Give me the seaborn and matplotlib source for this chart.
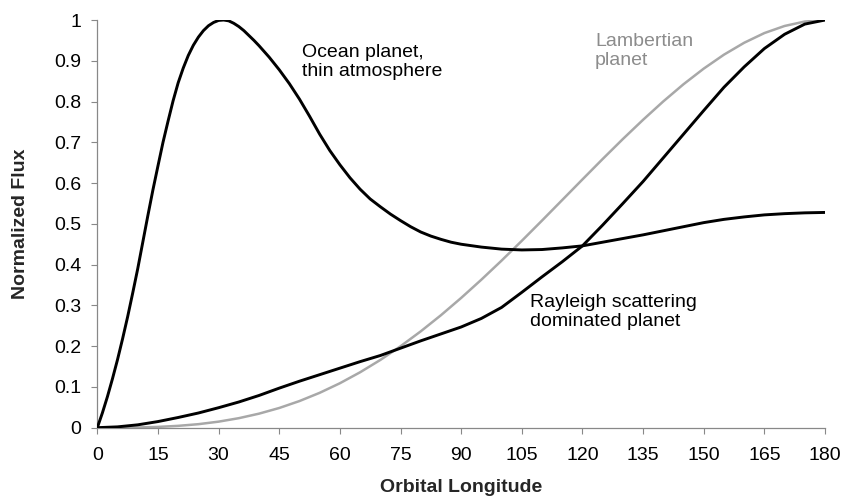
import numpy as np
import pandas as pd
import matplotlib
matplotlib.use("Agg")
import matplotlib.pyplot as plt
import seaborn as sns

# Orbital longitude (degrees) for Lambertian and Rayleigh curves
lon = [0, 5, 10, 15, 20, 25, 30, 35, 40, 45, 50, 55, 60, 65, 70, 75, 80, 85, 90,
       95, 100, 105, 110, 115, 120, 125, 130, 135, 140, 145, 150, 155, 160, 165,
       170, 175, 180]

lambertian = [0.0, 0.0001, 0.0006, 0.0019, 0.0045, 0.0086, 0.0148, 0.0233, 0.0344,
              0.0483, 0.0653, 0.0855, 0.109, 0.1359, 0.1661, 0.1997, 0.2363, 0.2759,
              0.3183, 0.3631, 0.4099, 0.4584, 0.5081, 0.5585, 0.609, 0.6591, 0.7081,
              0.7553, 0.8004, 0.8425, 0.8808, 0.915, 0.9442, 0.968, 0.9854, 0.9963, 1.0]

rayleigh = [0.0, 0.002, 0.007, 0.015, 0.025, 0.036, 0.049, 0.063, 0.079, 0.097,
            0.114, 0.13, 0.146, 0.162, 0.177, 0.195, 0.213, 0.23, 0.247, 0.268,
            0.295, 0.332, 0.37, 0.407, 0.446, 0.497, 0.55, 0.604, 0.662, 0.72,
            0.778, 0.835, 0.885, 0.93, 0.965, 0.99, 1.0]

# Ocean planet curve (denser sampling near the glint peak)
ocean_lon = [0, 1.25, 2.5, 3.75, 5, 6.25, 7.5, 8.75, 10, 11.25, 12.5, 13.75, 15,
             16.25, 17.5, 18.75, 20, 21.25, 22.5, 23.75, 25, 26.25, 27.5, 28.75,
             30, 31.25, 32.5, 33.75, 35, 36.25, 37.5, 38.75, 40, 42.5, 45, 47.5,
             50, 52.5, 55, 57.5, 60, 62.5, 65, 67.5, 70, 72.5, 75, 77.5, 80, 82.5,
             85, 87.5, 90, 95, 100, 105, 110, 115, 120, 125, 130, 135, 140, 145,
             150, 155, 160, 165, 170, 175, 180]
ocean = [0.0, 0.036, 0.076, 0.12, 0.167, 0.218, 0.272, 0.33, 0.39, 0.455, 0.52,
         0.583, 0.642, 0.7, 0.752, 0.802, 0.846, 0.882, 0.913, 0.938, 0.958,
         0.974, 0.986, 0.994, 0.999, 1.0, 0.998, 0.992, 0.984, 0.974, 0.962,
         0.95, 0.937, 0.909, 0.878, 0.844, 0.806, 0.764, 0.72, 0.68, 0.645,
         0.613, 0.585, 0.561, 0.542, 0.524, 0.508, 0.493, 0.48, 0.47, 0.462,
         0.455, 0.45, 0.443, 0.438, 0.436, 0.437, 0.441, 0.446, 0.455, 0.464,
         0.473, 0.483, 0.493, 0.503, 0.511, 0.517, 0.522, 0.525, 0.527, 0.528]

x_ticks = [0, 15, 30, 45, 60, 75, 90, 105, 120, 135, 150, 165, 180]
y_ticks = [0, 0.1, 0.2, 0.3, 0.4, 0.5, 0.6, 0.7, 0.8, 0.9, 1.0]
y_tick_labels = ["0", "0.1", "0.2", "0.3", "0.4", "0.5", "0.6", "0.7", "0.8", "0.9", "1"]

sns.set_style("white")
plt.rcParams["font.family"] = ["Liberation Sans", "DejaVu Sans"]

fig = plt.figure(figsize=(8.41, 4.98), dpi=100)
ax = fig.add_axes([0.1157, 0.1412, 0.981 - 0.1157, 0.9598 - 0.1412])

df_lr = pd.DataFrame({"lon": lon, "lam": lambertian, "ray": rayleigh})
df_oc = pd.DataFrame({"lon": ocean_lon, "ocean": ocean})

line_kw = dict(solid_joinstyle="round", solid_capstyle="round")
sns.lineplot(data=df_lr, x="lon", y="lam", ax=ax, color="#a8a8a8", linewidth=1.8, zorder=2, **line_kw)
sns.lineplot(data=df_lr, x="lon", y="ray", ax=ax, color="black", linewidth=2.1, zorder=3, **line_kw)
sns.lineplot(data=df_oc, x="lon", y="ocean", ax=ax, color="black", linewidth=2.1, zorder=3, **line_kw)

ax.set_xlim(0, 180)
ax.set_ylim(0, 1)
ax.set_xticks(x_ticks)
ax.set_yticks(y_ticks)
ax.set_yticklabels(y_tick_labels)
ax.tick_params(axis="both", which="major", direction="out", length=4, width=0.8,
               color="#888888", labelsize=14, labelcolor="black", bottom=True, left=True)
ax.tick_params(axis="y", pad=7.5)
ax.tick_params(axis="x", pad=10)

for s in ["top", "right"]:
    ax.spines[s].set_visible(False)
for s in ["left", "bottom"]:
    ax.spines[s].set_color("#888888")
    ax.spines[s].set_linewidth(0.9)

ax.set_xlabel("Orbital Longitude", fontsize=14, fontweight="bold")
ax.set_ylabel("Normalized Flux", fontsize=14, fontweight="bold")
ax.xaxis.set_label_coords(0.5, -0.127)
ax.yaxis.set_label_coords(-0.094, 0.5)

ax.text(50.6, 0.94, "Ocean planet,\nthin atmosphere", fontsize=14, ha="left", va="top",
        color="black", linespacing=1.15)
ax.text(123.1, 0.967, "Lambertian\nplanet", fontsize=14, ha="left", va="top",
        color="#8c8c8c", linespacing=1.15)
ax.text(107.0, 0.327, "Rayleigh scattering\ndominated planet", fontsize=14, ha="left", va="top",
        color="black", linespacing=1.15)

fig.savefig("out.png", dpi=100)
